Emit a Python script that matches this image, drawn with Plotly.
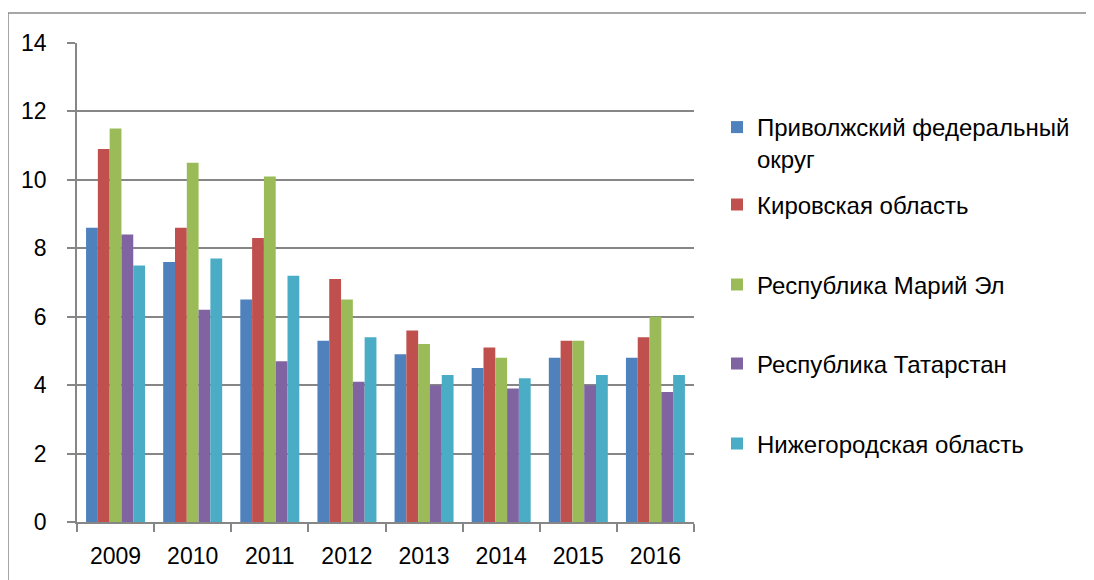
import plotly.graph_objects as go

years = ["2009", "2010", "2011", "2012", "2013", "2014", "2015", "2016"]
series_names = [
    "Приволжский федеральный<br>округ",
    "Кировская область",
    "Республика Марий Эл",
    "Республика Татарстан",
    "Нижегородская область",
]
pfo = [8.6, 7.6, 6.5, 5.3, 4.9, 4.5, 4.8, 4.8]
kirov = [10.9, 8.6, 8.3, 7.1, 5.6, 5.1, 5.3, 5.4]
mari = [11.5, 10.5, 10.1, 6.5, 5.2, 4.8, 5.3, 6.0]
tatar = [8.4, 6.2, 4.7, 4.1, 4.0, 3.9, 4.0, 3.8]
nizh = [7.5, 7.7, 7.2, 5.4, 4.3, 4.2, 4.3, 4.3]
colors = ["#4F81BD", "#C0504D", "#9BBB59", "#8064A2", "#4BACC6"]
y_ticks = [0, 2, 4, 6, 8, 10, 12, 14]

FONT = "Liberation Sans"
FS_TICK = 23
FS_LEG = 24

# the page body has an 8px default margin; work in screen pixels and offset
OFF = 8
W, H = 1094 - OFF, 580 - OFF
L, R, T, B = 77 - OFF, 694 - OFF, 43 - OFF, 522 - OFF
pw, ph = R - L, B - T

def py(p):
    return (B - (p - OFF)) / ph

def px(p):
    return ((p - OFF) - L) / pw

fig = go.Figure()
all_vals = [pfo, kirov, mari, tatar, nizh]
legend_pos = [(122, "top"), (205, "middle"), (285, "middle"), (364, "middle"), (444, "middle")]
legend_keys = ["legend", "legend2", "legend3", "legend4", "legend5"]
for name, vals, col, lk in zip(series_names, all_vals, colors, legend_keys):
    fig.add_trace(go.Bar(x=years, y=vals, name=name, marker_color=col,
                         marker_line_width=0, legend=lk))

layout_legends = {}
for lk, (c, va) in zip(legend_keys, legend_pos):
    d = dict(
        x=px(717), xanchor="left",
        font=dict(family=FONT, size=FS_LEG, color="#000"),
        bgcolor="rgba(0,0,0,0)", borderwidth=0, itemclick=False,
        valign=va,
    )
    if va == "top":
        d.update(y=py(c - 17), yanchor="top")
    else:
        d.update(y=py(c), yanchor="middle")
    layout_legends[lk] = d

fig.update_layout(
    width=W, height=H,
    margin=dict(l=L, r=W - R, t=T, b=H - B, pad=0),
    paper_bgcolor="white", plot_bgcolor="white",
    barmode="group", bargap=0.235, bargroupgap=0,
    font=dict(family=FONT, size=FS_TICK, color="#000"),
    showlegend=True,
    **layout_legends,
    xaxis=dict(
        type="category", showline=True, linecolor="#868686", linewidth=1.5,
        ticks="outside", tickson="boundaries", ticklen=8, tickcolor="#868686",
        tickwidth=1.5, showgrid=False, ticklabelstandoff=13,
        tickfont=dict(family=FONT, size=FS_TICK, color="#000"),
    ),
    yaxis=dict(
        range=[0, 14], tickvals=y_ticks, showline=True, linecolor="#868686",
        linewidth=1.5, ticks="outside", ticklen=8, tickcolor="#868686",
        tickwidth=1.5, showgrid=True, gridcolor="#868686", gridwidth=1.5,
        zeroline=False, ticklabelstandoff=16,
        tickfont=dict(family=FONT, size=FS_TICK, color="#000"),
    ),
    shapes=[
        dict(type="line", xref="paper", yref="paper", x0=px(8), x1=px(1093),
             y0=py(13), y1=py(13), line=dict(color="#888888", width=1.5)),
        dict(type="line", xref="paper", yref="paper", x0=px(8), x1=px(8),
             y0=py(13), y1=py(590), line=dict(color="#888888", width=1.5)),
    ],
)

fig.write_html("out.html")
